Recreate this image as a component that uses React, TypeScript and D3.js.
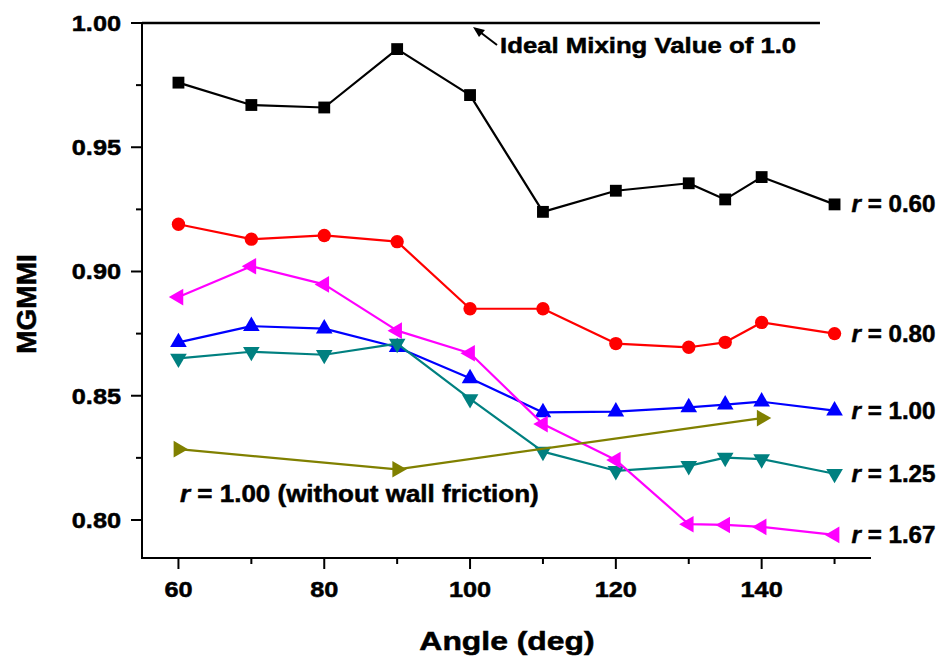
import React, { useEffect, useRef } from 'react';
import * as d3 from 'd3';

// angle values (deg) shared by the five friction series
const angles = [60, 70, 80, 90, 100, 110, 120, 130, 135, 140, 150];
const r060 = [0.976, 0.967, 0.966, 0.9895, 0.971, 0.924, 0.9325, 0.9355, 0.929, 0.938, 0.927];
const r080 = [0.919, 0.913, 0.9145, 0.912, 0.885, 0.885, 0.871, 0.8695, 0.8715, 0.8795, 0.875];
const r100 = [0.8715, 0.878, 0.877, 0.8695, 0.857, 0.8433, 0.8436, 0.8453, 0.8464, 0.8476, 0.844];
const r125 = [0.865, 0.8677, 0.8665, 0.871, 0.8487, 0.8275, 0.8198, 0.8218, 0.8251, 0.8245, 0.8186];
const r167 = [0.8897, 0.9021, 0.8948, 0.8762, 0.8671, 0.8386, 0.8241, 0.7983, 0.798, 0.7972, 0.794];

const noFrictionAngles = [60, 90, 140];
const r100NoFriction = [0.8285, 0.8204, 0.841];

const seriesLabels = ['0.60', '0.80', '1.00', '1.25', '1.67'];

const xMajorTicks = [60, 80, 100, 120, 140];
const xMinorTicks = [70, 90, 110, 130, 150];
const yMajorTicks = [0.8, 0.85, 0.9, 0.95, 1.0];
const yMinorTicks = [0.825, 0.875, 0.925, 0.975];

const idealValue = 1.0;
const idealExtent = [55, 148];

const FONT = 'Arial, "Liberation Sans", sans-serif';

export default function App() {
  const svgRef = useRef<SVGSVGElement>(null);

  useEffect(() => {
    if (!svgRef.current) return;
    const width = 944;
    const height = 659;
    const svg = d3.select(svgRef.current);
    svg.selectAll('*').remove();
    svg.attr('width', width).attr('height', height);

    const x = d3.scaleLinear().domain([55, 155]).range([142, 871]);
    const y = d3.scaleLinear().domain([0.7847, 1.0]).range([558, 23]);

    // stretched bold text, like the original export
    const addText = (
      px: number,
      py: number,
      size: number,
      sx: number,
      anchor: string,
      parts: Array<{ t: string; italic?: boolean }>
    ) => {
      const g = svg.append('g').attr('transform', `translate(${px},${py}) scale(${sx},1)`);
      const t = g
        .append('text')
        .attr('font-family', FONT)
        .attr('font-weight', 700)
        .attr('font-size', size)
        .attr('text-anchor', anchor)
        .attr('fill', '#000')
        .attr('stroke', '#000')
        .attr('stroke-width', 0.5);
      parts.forEach((p) => {
        t.append('tspan')
          .attr('font-style', p.italic ? 'italic' : 'normal')
          .attr('xml:space', 'preserve')
          .text(p.t);
      });
      return g;
    };

    // axes
    svg.append('line').attr('x1', 142).attr('x2', 142).attr('y1', 23).attr('y2', 559)
      .attr('stroke', '#000').attr('stroke-width', 2);
    svg.append('line').attr('x1', 141).attr('x2', 871).attr('y1', 558).attr('y2', 558)
      .attr('stroke', '#000').attr('stroke-width', 2);

    xMajorTicks.forEach((d) => {
      svg.append('line').attr('x1', x(d)).attr('x2', x(d)).attr('y1', 558).attr('y2', 569)
        .attr('stroke', '#000').attr('stroke-width', 2);
      addText(x(d), 597, 22, 1.15, 'middle', [{ t: `${d}` }]);
    });
    xMinorTicks.forEach((d) => {
      svg.append('line').attr('x1', x(d)).attr('x2', x(d)).attr('y1', 558).attr('y2', 564)
        .attr('stroke', '#000').attr('stroke-width', 2);
    });
    yMajorTicks.forEach((d) => {
      svg.append('line').attr('x1', 131).attr('x2', 142).attr('y1', y(d)).attr('y2', y(d))
        .attr('stroke', '#000').attr('stroke-width', 2);
      addText(121, y(d) + 8, 22, 1.15, 'end', [{ t: d.toFixed(2) }]);
    });
    yMinorTicks.forEach((d) => {
      svg.append('line').attr('x1', 136).attr('x2', 142).attr('y1', y(d)).attr('y2', y(d))
        .attr('stroke', '#000').attr('stroke-width', 2);
    });

    // ideal mixing reference line
    svg.append('line')
      .attr('x1', x(idealExtent[0])).attr('x2', x(idealExtent[1]))
      .attr('y1', y(idealValue)).attr('y2', y(idealValue))
      .attr('stroke', '#000').attr('stroke-width', 2.5);

    // axis titles
    addText(507, 650, 25.5, 1.25, 'middle', [{ t: 'Angle (deg)' }]);
    const yt = svg.append('g').attr('transform', 'translate(36,304) rotate(-90)');
    yt.append('text').attr('font-family', FONT).attr('font-weight', 700).attr('font-size', 28)
      .attr('text-anchor', 'middle').attr('stroke', '#000').attr('stroke-width', 0.5).text('MGMMI');

    type Series = { xs: number[]; ys: number[]; color: string; symbol: d3.SymbolType; size: number; rot: number };
    const series: Series[] = [
      { xs: angles, ys: r060, color: '#000000', symbol: d3.symbolSquare, size: 140, rot: 0 },
      { xs: angles, ys: r080, color: '#FF0000', symbol: d3.symbolCircle, size: 140, rot: 0 },
      { xs: angles, ys: r100, color: '#0000FF', symbol: d3.symbolTriangle, size: 120, rot: 0 },
      { xs: angles, ys: r125, color: '#008080', symbol: d3.symbolTriangle, size: 120, rot: 180 },
      { xs: angles, ys: r167, color: '#FF00FF', symbol: d3.symbolTriangle, size: 120, rot: -90 },
      { xs: noFrictionAngles, ys: r100NoFriction, color: '#808000', symbol: d3.symbolTriangle, size: 120, rot: 90 },
    ];

    const line = d3.line<[number, number]>().x((d) => x(d[0])).y((d) => y(d[1]));

    series.forEach((s) => {
      const pts = s.xs.map((a, i) => [a, s.ys[i]] as [number, number]);
      svg.append('path').attr('d', line(pts) as string).attr('fill', 'none')
        .attr('stroke', s.color).attr('stroke-width', 2.2).attr('stroke-linejoin', 'round');
      const sym = d3.symbol().type(s.symbol).size(s.size);
      svg.append('g').selectAll('path').data(pts).enter().append('path')
        .attr('d', sym() as string)
        .attr('transform', (d) => `translate(${x(d[0])},${y(d[1])}) rotate(${s.rot})`)
        .attr('fill', s.color);
    });

    // right-hand series labels at the last point of each series
    [r060, r080, r100, r125, r167].forEach((vals, i) => {
      addText(x(angles[angles.length - 1]) + 17, y(vals[vals.length - 1]) + 8, 23, 1.05, 'start', [
        { t: 'r', italic: true },
        { t: ` = ${seriesLabels[i]}` },
      ]);
    });

    addText(180, 502, 23, 1.13, 'start', [
      { t: 'r', italic: true },
      { t: ' = 1.00 (without wall friction)' },
    ]);

    addText(500, 53, 23, 1.12, 'start', [{ t: 'Ideal Mixing Value of 1.0' }]);

    // arrow pointing to the reference line
    svg.append('line').attr('x1', 497).attr('y1', 45).attr('x2', 480).attr('y2', 32)
      .attr('stroke', '#000').attr('stroke-width', 2);
    svg.append('path').attr('d', 'M473,27 L485,30 L479,37 Z').attr('fill', '#000');
  }, []);

  return (
    <svg
      ref={svgRef}
      style={{ position: 'absolute', left: 0, top: 0, background: '#fff', display: 'block' }}
    />
  );
}
